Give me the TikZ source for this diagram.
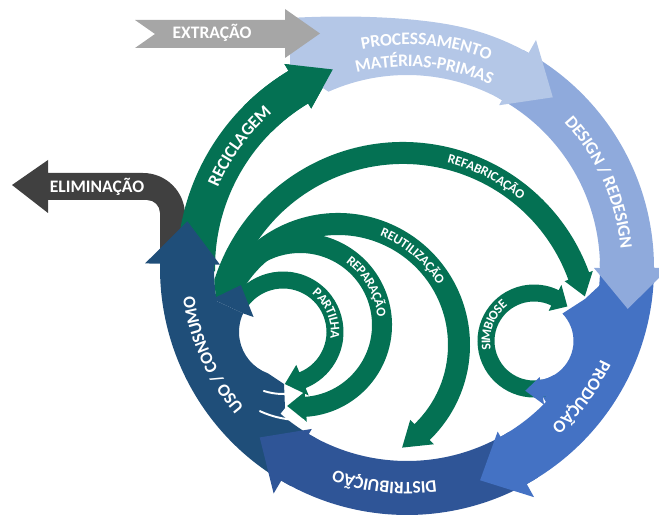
\documentclass[tikz,border=0pt]{standalone}
\usepackage{fontspec}
\newfontfamily\carlito{Carlito}
\usetikzlibrary{calc,decorations.text}

\definecolor{procblue}{HTML}{B4C7E7}
\definecolor{designblue}{HTML}{8FAADC}
\definecolor{prodblue}{HTML}{4472C4}
\definecolor{distblue}{HTML}{2F5597}
\definecolor{usoblue}{HTML}{1F4E79}
\definecolor{elimgray}{HTML}{404040}
\definecolor{extrgray}{HTML}{A6A6A6}
\definecolor{loopgreen}{HTML}{047153}

% curved band with arrow head: style, centre, r in, r out, start, head base, tip, flare in, flare out
\newcommand{\bandarrow}[9]{%
  \fill[#1,shift={#2}] (#5:#4) arc[start angle=#5, end angle=#6, radius=#4]
    -- (#6:{#4+#9}) -- (#7:{(#3-#8+#4+#9)/2}) -- (#6:{#3-#8})
    -- (#6:#3) arc[start angle=#6, end angle=#5, radius=#3] -- cycle;}

\tikzset{
  ringlabel/.style={decorate, decoration={text along path, text align=center,
    text color=white, raise=-3.2pt,
    text={|\carlito\bfseries\fontsize{10}{12}\selectfont|#1}}},
  looplabel/.style={decorate, decoration={text along path, text align=center,
    text color=white, raise=-2.4pt,
    text={|\carlito\bfseries\fontsize{7.5}{9}\selectfont|#1}}},
  flatlabel/.style={text=white, font=\carlito\bfseries\fontsize{10}{12}\selectfont},
  sliver/.style={draw=white, line width=1.1pt, line cap=round},
}

\begin{document}
\begin{tikzpicture}[x=0.02cm,y=0.02cm]
	%%%%% START %%%%%
	\useasboundingbox (0,0) rectangle (659,521);
	
	\coordinate (C) at (407,253);
	\coordinate (F) at (403,181);
	\coordinate (U) at (338,176);
	\coordinate (R) at (300,196);
	\coordinate (P) at (283,189);
	\coordinate (S) at (534,180);
	
	% eliminacao
	\fill[elimgray] (12,336) -- (48,361) -- (48,348) -- (143,348)
		arc[start angle=90, end angle=0, radius=42] -- (185,255) -- (160,255) -- (160,308)
		arc[start angle=0, end angle=90, radius=13] -- (48,321) -- (48,308) -- cycle;
	
	% reciclagem
	\bandarrow{loopgreen}{(407,253)}{192}{230}{181}{121}{110.5}{6}{8}
	
	% uso / consumo
	\bandarrow{usoblue}{(407,253)}{193}{247}{242}{179}{168}{6}{15}
	\fill[usoblue] ($(P)+(250:44)$) arc[start angle=250, end angle=155, radius=44]
		-- ($(P)+(155:74)$) -- (200,220) -- (200,140) -- (265,88) -- (285,113) -- (284,137) -- cycle;
	
	% distribuicao
	\bandarrow{distblue}{(407,253)}{193}{247}{-58}{-120.6}{-131}{6}{15}
	
	% producao
	\bandarrow{prodblue}{(407,253)}{193}{247}{2}{-61}{-71}{6}{15}
	\fill[prodblue] ($(S)+(44:39.5)$) arc[start angle=44, end angle=-81, radius=39.5]
		-- ($(S)+(-81:56.5)$) -- (560,95) -- (600,120) -- (628,215) -- (600,236) -- (585,222) -- cycle;
	
	% design / redesign
	\bandarrow{designblue}{(407,253)}{193}{247}{62}{0}{-10.5}{6}{15}
	
	% processamento
	\fill[procblue] (290,503) .. controls (340,506) and (410,505) .. ($(C)+(78:247)$)
		arc[start angle=78, end angle=60.5, radius=247] -- ($(C)+(60.5:262)$)
		-- ($(C)+(49.5:224.5)$) -- ($(C)+(60.5:187)$) -- ($(C)+(60.5:193)$)
		arc[start angle=60.5, end angle=114, radius=193] -- (290,455) -- cycle;
	
	\bandarrow{loopgreen}{(407,253)}{192}{230}{135}{121}{110.5}{6}{8}
	
	% extracao
	\fill[extrgray] (135,501) -- (285,501) -- (285,512) -- (320,487.5) -- (285,463)
		-- (285,473) -- (135,473) -- (155,487) -- cycle;
	
	% inner loops
	\begin{scope}
		\clip (C) circle (193);
		\bandarrow{loopgreen}{(403,181)}{176}{198}{167}{20}{13.5}{4}{4}
		\bandarrow{loopgreen}{(338,176)}{110}{132}{158}{-46}{-58}{6}{6}
		\bandarrow{loopgreen}{(300,196)}{72}{92}{158}{-86}{-99}{5}{5}
		\bandarrow{loopgreen}{(283,189)}{43.5}{60.5}{150}{-68}{-88}{8}{8}
		\bandarrow{loopgreen}{(534,180)}{39.5}{56.5}{-78}{-296}{-314}{6}{6}
	\end{scope}
	
	\fill[usoblue] ($(P)+(155:44)$) -- ($(P)+(153:33)$) -- ($(P)+(132:63)$)
		-- ($(P)+(153:76)$) -- ($(P)+(155:74)$) -- cycle;
	\bandarrow{prodblue}{(534,180)}{39.5}{56.5}{-60}{-81}{-100}{3}{8}
	
	% white gaps in the navy tails
	\draw[sliver] ($(P)+(252:62)$) arc[start angle=252, end angle=284, radius=62];
	\draw[sliver] ($(R)+(245:95)$) arc[start angle=245, end angle=272, radius=95];
	
	% labels
	\node[flatlabel] (elim) at (97,334) {ELIMINAÇÃO};
	\node[flatlabel] (extr) at (212,488) {EXTRAÇÃO};
	
	\path[ringlabel={PROCESSAMENTO}] ($(C)+(125:229)$) arc[start angle=125, end angle=45, radius=229];
	\path[ringlabel={MATÉRIAS-PRIMAS}] ($(C)+(125:207)$) arc[start angle=125, end angle=45, radius=207];
	\path[ringlabel={DESIGN / REDESIGN}] ($(C)+(58:220)$) arc[start angle=58, end angle=-10, radius=220];
	\path[ringlabel={PRODUÇÃO}] ($(C)+(-5:220)$) arc[start angle=-5, end angle=-68, radius=220];
	\path[ringlabel={DISTRIBUIÇÃO}] ($(C)+(-66:220)$) arc[start angle=-66, end angle=-126, radius=220];
	\path[ringlabel={USO / CONSUMO}] ($(C)+(234:220)$) arc[start angle=234, end angle=174, radius=220];
	\path[ringlabel={RECICLAGEM}] ($(C)+(166:211)$) arc[start angle=166, end angle=122, radius=211];
	
	\path[looplabel={REFABRICAÇÃO}] ($(F)+(88:187)$) arc[start angle=88, end angle=38, radius=187];
	\path[looplabel={REUTILIZAÇÃO}] ($(U)+(75:121)$) arc[start angle=75, end angle=25, radius=121];
	\path[looplabel={REPARAÇÃO}] ($(R)+(60:82)$) arc[start angle=60, end angle=0, radius=82];
	\path[looplabel={PARTILHA}] ($(P)+(60:52)$) arc[start angle=60, end angle=-15, radius=52];
	\path[looplabel={SIMBIOSE}] ($(S)+(200:48)$) arc[start angle=200, end angle=118, radius=48];
	%%%%% END %%%%%
\end{tikzpicture}
\end{document}
